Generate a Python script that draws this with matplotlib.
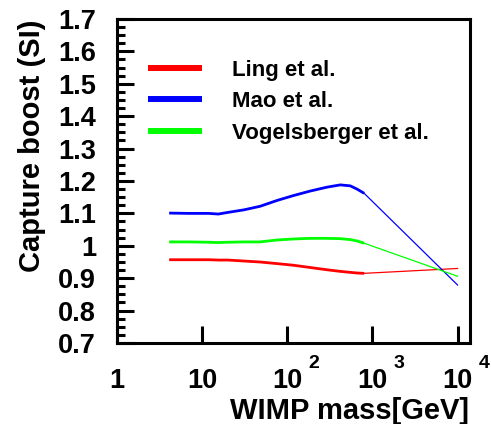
import matplotlib
matplotlib.use("Agg")
import matplotlib.pyplot as plt
from matplotlib.lines import Line2D
from matplotlib.ticker import FixedLocator, FixedFormatter, MultipleLocator, LogLocator, NullFormatter

plt.rcParams["font.family"] = ["Liberation Sans", "DejaVu Sans"]
plt.rcParams["font.weight"] = "bold"

# WIMP mass grid [GeV]
mass = [4.1, 7, 12, 15.5, 20, 31, 48, 76, 118, 186, 293, 420, 550, 660, 800, 10000]

# capture boost relative to the SHM, spin-independent
boost_ling = [0.957, 0.957, 0.957, 0.956, 0.956, 0.953, 0.950, 0.945, 0.940,
              0.933, 0.926, 0.921, 0.918, 0.916, 0.915, 0.930]
boost_mao = [1.101, 1.100, 1.100, 1.098, 1.103, 1.111, 1.122, 1.140, 1.155,
             1.169, 1.181, 1.188, 1.185, 1.175, 1.162, 0.879]
boost_vogel = [1.012, 1.012, 1.011, 1.010, 1.011, 1.012, 1.012, 1.018, 1.021,
               1.023, 1.023, 1.022, 1.019, 1.015, 1.008, 0.906]

labels = ["Ling et al.", "Mao et al.", "Vogelsberger et al."]
colors = ["#ff0000", "#0000ff", "#00ff00"]

y_ticks = [0.7, 0.8, 0.9, 1.0, 1.1, 1.2, 1.3, 1.4, 1.5, 1.6, 1.7]
y_ticklabels = ["0.7", "0.8", "0.9", "1", "1.1", "1.2", "1.3", "1.4", "1.5", "1.6", "1.7"]
x_ticks = [1, 10, 100, 1000, 10000]
x_ticklabels = ["1", "10", "10", "10", "10"]
x_exponents = ["", "", "2", "3", "4"]

fig = plt.figure(figsize=(4.91, 4.24), dpi=100)
ax = fig.add_axes([117 / 491, 81 / 424, 353 / 491, 324 / 424])

for boost, col in zip([boost_ling, boost_mao, boost_vogel], colors):
    # dense scan up to the knee, then the single high-mass point
    ax.plot(mass[:-1], boost[:-1], color=col, lw=2.0, solid_capstyle="butt")
    ax.plot(mass[-2:], boost[-2:], color=col, lw=0.9)

ax.set_xscale("log")
ax.set_xlim(1, 14000)
ax.set_ylim(0.7, 1.7)

for s in ax.spines.values():
    s.set_linewidth(2.2)

ax.yaxis.set_major_locator(FixedLocator(y_ticks))
ax.yaxis.set_major_formatter(FixedFormatter(y_ticklabels))
ax.yaxis.set_minor_locator(MultipleLocator(0.025))
ax.xaxis.set_major_locator(FixedLocator(x_ticks))
ax.xaxis.set_major_formatter(FixedFormatter(x_ticklabels))
ax.xaxis.set_minor_locator(LogLocator(base=10, subs=range(2, 10)))
ax.xaxis.set_minor_formatter(NullFormatter())

ax.tick_params(which="both", direction="in", top=False, right=False, width=2.2)
ax.tick_params(which="major", length=12, labelsize=19.5)
ax.tick_params(which="minor", length=6)
ax.tick_params(axis="y", which="major", pad=15)
ax.tick_params(axis="x", which="major", pad=18)

for xt, ex in zip(x_ticks, x_exponents):
    if ex:
        ax.annotate(ex, xy=(xt, 0), xycoords=("data", "axes fraction"),
                    xytext=(15, -18), textcoords="offset points",
                    ha="left", va="baseline", fontsize=14, fontweight="bold")

fig.text(32 / 491, 1 - 19 / 424, "Capture boost (SI)", rotation=90,
         ha="center", va="top", fontsize=21, fontweight="bold")
fig.text(469 / 491, 1 - 419 / 424, "WIMP mass[GeV]", ha="right", va="baseline",
         fontsize=21, fontweight="bold")

handles = [Line2D([], [], color=c, lw=4.3, solid_capstyle="butt") for c in colors]
leg = ax.legend(handles, labels, loc="upper left", bbox_to_anchor=(0.087, 0.874),
                frameon=False, fontsize=16, handlelength=2.45, handletextpad=1.35,
                labelspacing=0.47, borderpad=0, borderaxespad=0)
for t in leg.get_texts():
    t.set_fontweight("bold")

fig.savefig("out.png", dpi=100)
